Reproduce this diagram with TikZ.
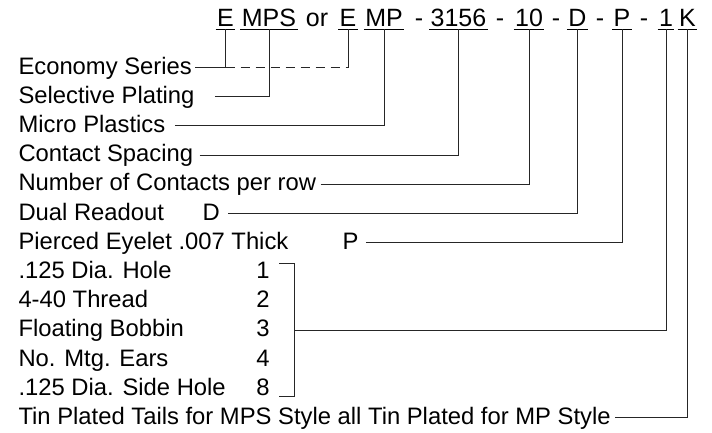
\documentclass[tikz,border=0pt]{standalone}
\usepackage{fontspec}
\setmainfont{Liberation Sans}
\usetikzlibrary{positioning}
\tikzset{
  rowlbl/.style={anchor=base west, inner xsep=3pt, inner ysep=0pt, text height=17pt, text depth=4pt},
  code/.style={anchor=base east, inner sep=0pt, text height=17pt, text depth=4pt},
  part/.style={anchor=base, inner xsep=1pt, inner ysep=0pt, text height=18pt, text depth=2.7pt,
    font=\fontsize{25}{30}\selectfont,
    append after command={(\tikzlastnode.south west) edge (\tikzlastnode.south east)}},
  sep/.style={anchor=base, inner sep=0pt, font=\fontsize{25}{30}\selectfont},
  lead/.style={draw=black!85}
}

\begin{document}
\begin{tikzpicture}[x=1pt, y=-1pt, line width=1pt, font=\fontsize{23.8}{28}\selectfont]
  \useasboundingbox (0,0) rectangle (712,432);
  % part number
  \node[part] (e1) at (225.5,26) {E};
  \node[part] (mps) at (269,26) {MPS};
  \node[sep] (tor) at (317,26) {or};
  \node[part] (e2) at (348,26) {E};
  \node[part] (mp) at (384,26) {MP};
  \node[sep] (da) at (419,26) {-};
  \node[part] (spc) at (458.5,26) {3156};
  \node[sep] (db) at (500,26) {-};
  \node[part] (cnt) at (529,26) {10};
  \node[sep] (dc) at (556,26) {-};
  \node[part] (dd) at (577.5,26) {D};
  \node[sep] (de) at (600,26) {-};
  \node[part] (pp) at (622,26) {P};
  \node[sep] (df) at (644,26) {-};
  \node[part] (one) at (666,26) {1};
  \node[part] (kk) at (687.5,26) {K};
  % option rows
  \node[rowlbl] (econ) at (15,74) {Economy Series};
  \node[rowlbl] (sel) at (15,103.2) {Selective Plating};
  \node[rowlbl] (micro) at (15,132.4) {Micro Plastics};
  \node[rowlbl] (spac) at (15,161.6) {Contact Spacing};
  \node[rowlbl] (count) at (15,190.8) {Number of Contacts per row};
  \node[rowlbl] (dual) at (15,220) {Dual Readout};
  \node[rowlbl] (dlet) at (199,220) {D};
  \node[rowlbl] (eyelet) at (15,249.2) {Pierced Eyelet .007 Thick};
  \node[rowlbl] (plet) at (339,249.2) {P};
  \node[rowlbl] (hole) at (15,278.4) {.125 Dia. Hole};
  \node[rowlbl] (thread) at (15,307.6) {4-40 Thread};
  \node[rowlbl] (bobbin) at (15,336.8) {Floating Bobbin};
  \node[rowlbl] (ears) at (15,366) {No. Mtg. Ears};
  \node[rowlbl] (side) at (15,395.2) {.125 Dia. Side Hole};
  \node[rowlbl] (tin) at (15,424.4) {Tin Plated Tails for MPS Style all Tin Plated for MP Style};
  \node[code] (c1) at (270,278.4) {1};
  \node[code] (c2) at (270,307.6) {2};
  \node[code] (c3) at (270,336.8) {3};
  \node[code] (c4) at (270,366) {4};
  \node[code] (c8) at (270,395.2) {8};
  % leaders
  \draw[lead] (econ.east) -| (e1.south);
  \draw[lead, dash pattern=on 9pt off 6pt] (econ.east -| e1.south) -- (econ.east -| e2.south);
  \draw[lead] (econ.east -| e2.south) -- (e2.south);
  \draw[lead] ([xshift=17pt]sel.east) -| (mps.south);
  \draw[lead] ([xshift=6pt]micro.east) -| (mp.south);
  \draw[lead] ([xshift=3pt]spac.east) -| (spc.south);
  \draw[lead] ([xshift=1pt]count.east) -| (cnt.south);
  \draw[lead] ([xshift=5pt]dlet.east) -| (dd.south);
  \draw[lead] ([xshift=4pt]plet.east) -| (pp.south);
  % bracket for mounting codes
  \coordinate (brtop) at ([xshift=9pt, yshift=-2.5pt]c1.north east);
  \coordinate (brbot) at ([xshift=9pt, yshift=-1pt]c8.base east);
  \draw[lead] (brtop) -- ++(15,0) |- (brbot);
  \draw[lead] ([xshift=24pt]c3.east) -| (one.south);
  \draw[lead] ([xshift=1pt]tin.east) -| (kk.south);
\end{tikzpicture}
\end{document}
